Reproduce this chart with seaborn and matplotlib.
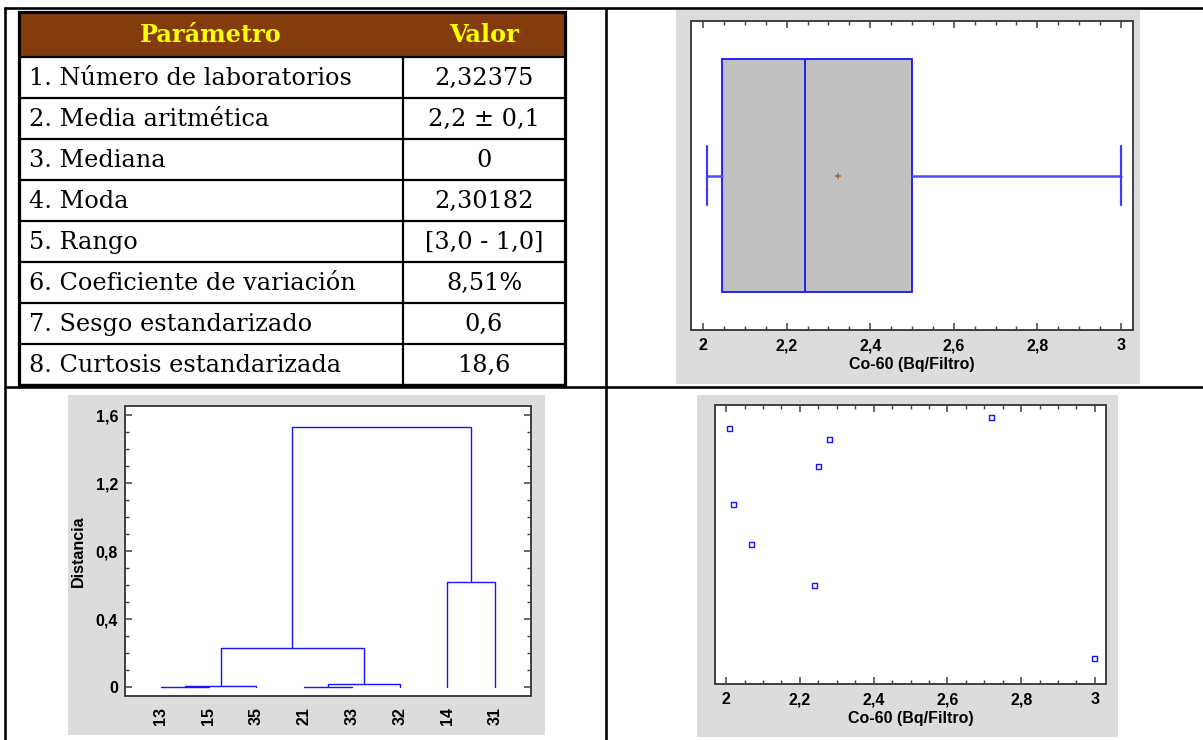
import numpy as np
import pandas as pd
import matplotlib
matplotlib.use("Agg")
import matplotlib.pyplot as plt
from matplotlib.patches import Rectangle
from matplotlib.ticker import MultipleLocator, FuncFormatter
import seaborn as sns

# ---------------- data ----------------
header = ["Parámetro", "Valor"]
param_labels = ["1. Número de laboratorios", "2. Media aritmética", "3. Mediana",
                "4. Moda", "5. Rango", "6. Coeficiente de variación",
                "7. Sesgo estandarizado", "8. Curtosis estandarizada"]
param_values = ["2,32375", "2,2 ± 0,1", "0", "2,30182", "[3,0 - 1,0]",
                "8,51%", "0,6", "18,6"]

co60 = [2.01, 2.02, 2.07, 2.24, 2.25, 2.28, 2.72, 3.00]          # Bq/Filtro
scatter_y = [0.916, 0.643, 0.499, 0.354, 0.779, 0.876, 0.956, 0.090]

leaf_labels = ["13", "15", "35", "21", "33", "32", "14", "31"]
link_a = [0, 8, 3, 10, 9, 6, 12]
link_b = [1, 2, 4, 5, 11, 7, 13]
link_h = [0.0005, 0.004, 0.0005, 0.017, 0.228, 0.617, 1.53]

x_label = "Co-60 (Bq/Filtro)"
y_label_dend = "Distancia"

# ---------------- style ----------------
sns.set_style("white")
plt.rcParams['font.family'] = ['Liberation Sans', 'DejaVu Sans']
plt.rcParams['font.weight'] = 'bold'
for key in ["text.color", "axes.labelcolor", "xtick.labelcolor", "ytick.labelcolor"]:
    plt.rcParams[key] = "black"

W, H = 1203, 740
fig = plt.figure(figsize=(W / 100, H / 100), dpi=100)
fig.patch.set_facecolor("white")


def px_rect(x0, y0, x1, y1):
    return [x0 / W, 1 - y1 / H, (x1 - x0) / W, (y1 - y0) / H]


def comma(v, pos=None):
    s = f"{round(v, 3):g}"
    if s == "-0":
        s = "0"
    return s.replace(".", ",")


PX = 0.72  # points per pixel
GRAY = "#DCDCDC"
SPINE = "#404040"
BLUE = "#1414FF"
TICKFS = 11.5

# ---------------- background: document frame + table ----------------
bg = fig.add_axes([0, 0, 1, 1])
bg.set_xlim(0, W)
bg.set_ylim(H, 0)
bg.axis("off")

for (xs, ys) in [([4, W], [8, 8]), ([5, 5], [7, H]), ([606, 606], [8, H]),
                 ([5, W], [387, 387])]:
    bg.plot(xs, ys, color="black", lw=2.6 * PX, solid_capstyle="butt")

for (x0, y0, x1, y1) in [(676, 10, 1140, 384), (68, 395, 545, 735), (697, 395, 1118, 737)]:
    bg.add_patch(Rectangle((x0, y0), x1 - x0, y1 - y0, facecolor=GRAY, edgecolor="none"))

tx0, tx1, tcol = 19, 565, 403
ty0, thead = 12, 57
row_h = 41
n_rows = len(param_labels)
ty1 = thead + row_h * n_rows
bg.add_patch(Rectangle((tx0, ty0), tx1 - tx0, thead - ty0, facecolor="#843C0C", edgecolor="none"))
for k in range(n_rows):
    yb = thead + row_h * (k + 1)
    bg.plot([tx0, tx1], [yb, yb], color="black", lw=2.2 * PX, solid_capstyle="butt")
bg.plot([tx0, tx1], [thead, thead], color="black", lw=2.2 * PX, solid_capstyle="butt")
bg.plot([tcol, tcol], [thead, ty1], color="black", lw=2.2 * PX, solid_capstyle="butt")
bg.add_patch(Rectangle((tx0, ty0), tx1 - tx0, ty1 - ty0, facecolor="none",
                       edgecolor="black", lw=3.2 * PX))

serif = ["DejaVu Serif"]
TFS = 17.3
bg.text((tx0 + tcol) / 2, (ty0 + thead) / 2 + 1, header[0], ha="center", va="center",
        fontsize=TFS, fontweight="bold", color="#FFFF00", family=serif)
bg.text((tcol + tx1) / 2, (ty0 + thead) / 2 + 1, header[1], ha="center", va="center",
        fontsize=TFS, fontweight="bold", color="#FFFF00", family=serif)
for k, (lab, val) in enumerate(zip(param_labels, param_values)):
    yc = thead + row_h * (k + 0.5) + 1
    bg.text(tx0 + 10, yc, lab, ha="left", va="center", fontsize=TFS,
            fontweight="normal", color="black", family=serif)
    bg.text((tcol + tx1) / 2, yc, val, ha="center", va="center", fontsize=TFS,
            fontweight="normal", color="black", family=serif)


def style_axes(ax):
    ax.set_facecolor("white")
    for sp in ax.spines.values():
        sp.set_visible(True)
        sp.set_color(SPINE)
        sp.set_linewidth(1.4)


# ---------------- box plot ----------------
axb = fig.add_axes(px_rect(691, 21, 1133, 330))
style_axes(axb)
vals = np.array(co60)
q1, med, q3 = np.percentile(vals, [25, 50, 75], method="midpoint")
iqr = q3 - q1
lo = vals[vals >= q1 - 1.5 * iqr].min()
hi = vals[vals <= q3 + 1.5 * iqr].max()
stats = [dict(med=med, q1=q1, q3=q3, whislo=lo, whishi=hi, mean=vals.mean(), fliers=[])]
bkw = dict(positions=[0], widths=0.757, patch_artist=True, showmeans=True,
           showfliers=False, capwidths=0.19,
           boxprops=dict(facecolor="#C0C0C0", edgecolor=BLUE, linewidth=1.3),
           medianprops=dict(color=BLUE, linewidth=1.3),
           whiskerprops=dict(color="#4B4BFF", linewidth=1.8),
           capprops=dict(color="#3C3CFF", linewidth=1.6),
           meanprops=dict(marker="+", markeredgecolor="#B8602C", markersize=5, markeredgewidth=1.1))
try:
    axb.bxp(stats, orientation="horizontal", **bkw)
except TypeError:
    axb.bxp(stats, vert=False, **bkw)
axb.set_ylim(-0.5, 0.5)
axb.set_xlim(1.971, 3.029)
axb.set_yticks([])
axb.xaxis.set_major_locator(MultipleLocator(0.2))
axb.xaxis.set_minor_locator(MultipleLocator(0.05))
axb.xaxis.set_major_formatter(FuncFormatter(comma))
axb.tick_params(axis="x", which="both", direction="in", top=True, bottom=True,
                color=SPINE, labelsize=TICKFS, pad=6)
axb.tick_params(axis="x", which="major", length=5, width=1.1)
axb.tick_params(axis="x", which="minor", length=2.7, width=1.0)
axb.set_xlabel(x_label, fontsize=TICKFS, fontweight="bold", labelpad=3)
axb.set_ylabel("")

# ---------------- dendrogram ----------------
axd = fig.add_axes(px_rect(125, 406, 531, 696))
style_axes(axd)
n = len(leaf_labels)
xpos = {i: i + 1 for i in range(n)}
hpos = {i: 0.0 for i in range(n)}
for k, (a, b, h) in enumerate(zip(link_a, link_b, link_h)):
    xa, xb = xpos[a], xpos[b]
    axd.plot([xa, xa, xb, xb], [hpos[a], h, h, hpos[b]], color=BLUE, lw=1.0)
    xpos[n + k] = (xa + xb) / 2
    hpos[n + k] = h
axd.set_xlim(0.25, 8.75)
axd.set_ylim(-0.053, 1.655)
axd.set_xticks(range(1, n + 1))
axd.set_xticklabels(leaf_labels, rotation=90, fontsize=TICKFS, fontweight="bold")
axd.tick_params(axis="x", length=0, pad=8)
axd.yaxis.set_major_locator(MultipleLocator(0.4))
axd.yaxis.set_minor_locator(MultipleLocator(0.1))
axd.yaxis.set_major_formatter(FuncFormatter(comma))
axd.tick_params(axis="y", which="both", direction="in", left=True, right=True,
                color=SPINE, labelsize=TICKFS, pad=5)
axd.tick_params(axis="y", which="major", length=5, width=1.1)
axd.tick_params(axis="y", which="minor", length=2.7, width=1.0)
axd.set_ylabel(y_label_dend, fontsize=TICKFS, fontweight="bold", labelpad=7)

# ---------------- scatter ----------------
axs = fig.add_axes(px_rect(715, 405, 1106, 684))
style_axes(axs)
df = pd.DataFrame({"x": co60, "y": scatter_y})
sns.scatterplot(data=df, x="x", y="y", ax=axs, marker="s", s=13, color=BLUE,
                facecolor="none", edgecolor=BLUE, linewidth=1.0)
axs.set_xlim(1.970, 3.030)
axs.set_ylim(0, 1)
axs.set_yticks([])
axs.set_ylabel("")
axs.xaxis.set_major_locator(MultipleLocator(0.2))
axs.xaxis.set_minor_locator(MultipleLocator(0.05))
axs.xaxis.set_major_formatter(FuncFormatter(comma))
axs.tick_params(axis="x", which="both", direction="in", top=True, bottom=True,
                color=SPINE, labelsize=TICKFS, pad=6)
axs.tick_params(axis="x", which="major", length=5, width=1.1)
axs.tick_params(axis="x", which="minor", length=2.7, width=1.0)
axs.set_xlabel(x_label, fontsize=TICKFS, fontweight="bold", labelpad=3)

fig.savefig("out.png", dpi=100, facecolor="white")
